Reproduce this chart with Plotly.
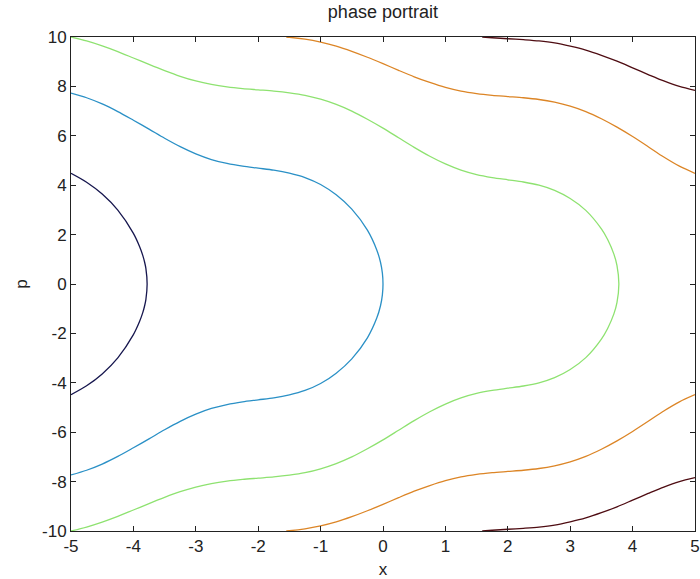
import plotly.graph_objects as go

# Level curves of the phase portrait, (x, p) samples along each trajectory
blue_x = [-5.0, -4.75, -4.5, -4.25, -4.0, -3.9, -3.85, -3.82, -3.8, -3.78,
          -3.8, -3.82, -3.85, -3.9, -4.0, -4.25, -4.5, -4.75, -5.0]
blue_p = [4.48, 4.12, 3.64, 2.99, 2.05, 1.51, 1.16, 0.88, 0.63, 0.0,
          -0.63, -0.88, -1.16, -1.51, -2.05, -2.99, -3.64, -4.12, -4.48]

cyan_x = [-5.0, -4.75, -4.5, -4.25, -4.0, -3.75, -3.5, -3.25, -3.0, -2.75, -2.5, -2.25, -2.0,
          -1.75, -1.5, -1.25, -1.0, -0.75, -0.5, -0.25, -0.1, -0.04, -0.01, 0.0,
          -0.01, -0.04, -0.1, -0.25, -0.5, -0.75, -1.0, -1.25, -1.5, -1.75,
          -2.0, -2.25, -2.5, -2.75, -3.0, -3.25, -3.5, -3.75, -4.0, -4.25, -4.5, -4.75, -5.0]
cyan_p = [7.73, 7.54, 7.29, 6.98, 6.63, 6.27, 5.90, 5.56, 5.27, 5.04, 4.88, 4.77, 4.69,
          4.61, 4.49, 4.31, 4.03, 3.61, 3.03, 2.18, 1.38, 0.88, 0.44, 0.0,
          -0.44, -0.88, -1.38, -2.18, -3.03, -3.61, -4.03, -4.31, -4.49, -4.61,
          -4.69, -4.77, -4.88, -5.04, -5.27, -5.56, -5.90, -6.27, -6.63, -6.98, -7.29, -7.54, -7.73]

green_x = [-5.0, -4.75, -4.5, -4.25, -4.0, -3.75, -3.5, -3.25, -3.0, -2.75, -2.5, -2.25, -2.0,
           -1.75, -1.5, -1.25, -1.0, -0.75, -0.5, -0.25, 0.0, 0.25, 0.5, 0.75, 1.0, 1.25,
           1.5, 1.75, 2.0, 2.25, 2.5, 2.75, 3.0, 3.25, 3.5, 3.6, 3.7, 3.75, 3.78,
           3.75, 3.7, 3.6, 3.5, 3.25, 3.0, 2.75, 2.5, 2.25, 2.0, 1.75, 1.5,
           1.25, 1.0, 0.75, 0.5, 0.25, 0.0, -0.25, -0.5, -0.75, -1.0, -1.25, -1.5, -1.75,
           -2.0, -2.25, -2.5, -2.75, -3.0, -3.25, -3.5, -3.75, -4.0, -4.25, -4.5, -4.75, -5.0]
green_p = [10.0, 9.84, 9.64, 9.41, 9.15, 8.89, 8.64, 8.41, 8.22, 8.08, 7.98, 7.91, 7.86,
           7.81, 7.74, 7.64, 7.48, 7.27, 7.00, 6.67, 6.31, 5.92, 5.53, 5.17, 4.86, 4.61,
           4.43, 4.31, 4.22, 4.13, 4.00, 3.79, 3.46, 2.98, 2.23, 1.80, 1.21, 0.74, 0.0,
           -0.74, -1.21, -1.80, -2.23, -2.98, -3.46, -3.79, -4.00, -4.13, -4.22, -4.31, -4.43,
           -4.61, -4.86, -5.17, -5.53, -5.92, -6.31, -6.67, -7.00, -7.27, -7.48, -7.64, -7.74, -7.81,
           -7.86, -7.91, -7.98, -8.08, -8.22, -8.41, -8.64, -8.89, -9.15, -9.41, -9.64, -9.84, -10.0]

orange_x = [-1.55, -1.5, -1.25, -1.0, -0.75, -0.5, -0.25, 0.0, 0.25, 0.5, 0.75, 1.0, 1.25, 1.5,
            1.75, 2.0, 2.25, 2.5, 2.75, 3.0, 3.25, 3.5, 3.75, 4.0, 4.25, 4.5, 4.75, 5.0]
orange_top = [10.0, 9.99, 9.91, 9.79, 9.63, 9.42, 9.18, 8.92, 8.65, 8.39, 8.16, 7.96, 7.81, 7.71,
              7.64, 7.59, 7.54, 7.47, 7.36, 7.20, 6.98, 6.69, 6.35, 5.97, 5.56, 5.14, 4.77, 4.48]
orange_bot = [-10.0, -9.99, -9.91, -9.79, -9.63, -9.42, -9.18, -8.92, -8.65, -8.39, -8.16, -7.96, -7.81, -7.71,
              -7.64, -7.59, -7.54, -7.47, -7.36, -7.20, -6.98, -6.69, -6.35, -5.97, -5.56, -5.14, -4.77, -4.48]

red_x = [1.59, 1.75, 2.0, 2.25, 2.5, 2.75, 3.0, 3.25, 3.5, 3.75, 4.0, 4.25, 4.5, 4.75, 5.0]
red_top = [10.0, 9.97, 9.93, 9.89, 9.84, 9.76, 9.63, 9.47, 9.26, 9.02, 8.75, 8.48, 8.22, 8.0, 7.84]
red_bot = [-10.0, -9.97, -9.93, -9.89, -9.84, -9.76, -9.63, -9.47, -9.26, -9.02, -8.75, -8.48, -8.22, -8.0, -7.84]

x_ticks = [-5, -4, -3, -2, -1, 0, 1, 2, 3, 4, 5]
p_ticks = [-10, -8, -6, -4, -2, 0, 2, 4, 6, 8, 10]

curves = [
    (blue_x, blue_p, "#16164e"),
    (cyan_x, cyan_p, "#2a90c6"),
    (green_x, green_p, "#8ee270"),
    (orange_x, orange_top, "#dc8526"),
    (orange_x, orange_bot, "#dc8526"),
    (red_x, red_top, "#4e0c12"),
    (red_x, red_bot, "#4e0c12"),
]

fig = go.Figure()
for xs, ps, col in curves:
    fig.add_trace(go.Scatter(
        x=xs, y=ps, mode="lines",
        line=dict(color=col, width=1.3, shape="spline", smoothing=0.8),
        showlegend=False, hoverinfo="skip",
    ))

FONT = "Liberation Sans, Arial, sans-serif"
TEXT = "#222222"

axis_common = dict(
    showgrid=False, zeroline=False, automargin=False,
    showline=True, linecolor=TEXT, linewidth=1, mirror="ticks",
    ticks="inside", ticklen=5, tickcolor=TEXT,
    tickfont=dict(family=FONT, size=17, color=TEXT),
    ticklabeloverflow="allow",
)

fig.update_xaxes(range=[-5, 5], tickvals=x_ticks, ticktext=[str(v) for v in x_ticks],
                 title=dict(text="x", standoff=10, font=dict(family=FONT, size=17, color=TEXT)),
                 **axis_common)
fig.update_yaxes(range=[-10, 10], tickvals=p_ticks, ticktext=[str(v) for v in p_ticks],
                 title=dict(text="p", standoff=10, font=dict(family=FONT, size=17, color=TEXT)),
                 **axis_common)

fig.update_layout(
    width=700, height=579,
    margin=dict(l=71, r=5, t=37, b=48),
    paper_bgcolor="white", plot_bgcolor="white",
    title=dict(text="phase portrait", x=0.547, xanchor="center", y=0.979, yanchor="middle",
               yref="container", font=dict(family=FONT, size=18, color=TEXT)),
)

fig.write_html("out.html")
